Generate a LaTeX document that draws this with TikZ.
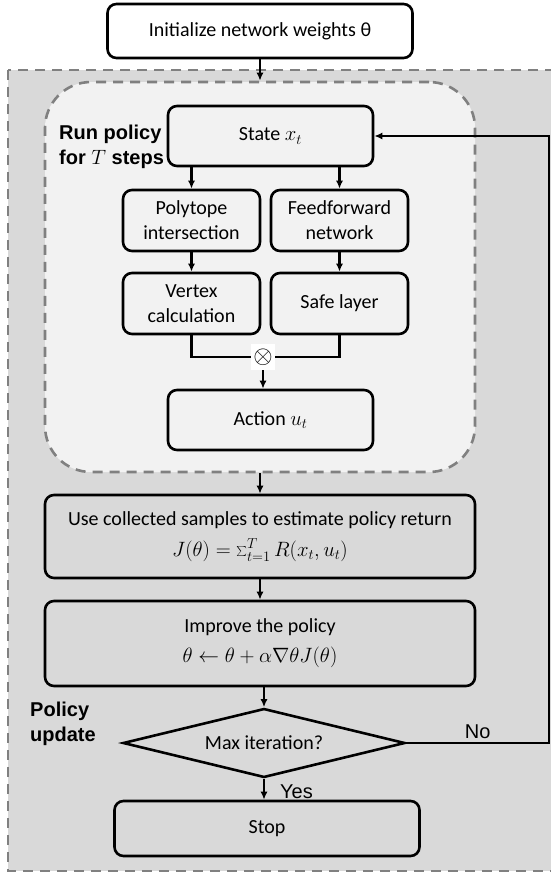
\documentclass[tikz,border=0pt]{standalone}
\usepackage{fontspec}
\setmainfont{Carlito}
\newfontfamily\arialfont{Liberation Sans}
\usetikzlibrary{shapes.geometric,arrows.meta}
\definecolor{outergray}{HTML}{D9D9D9}
\definecolor{innergray}{HTML}{F2F2F2}
\definecolor{dashgray}{HTML}{808080}
\begin{document}
\begin{tikzpicture}[x=1pt,y=-1pt,
  box/.style={draw=black,line width=2.6pt,rounded corners=9pt,inner sep=0pt,align=center,font=\fontsize{20}{25}\selectfont},
  flow/.style={line width=2.3pt,-{Latex[length=8pt,width=7pt]}},
  joint/.style={line width=2.3pt},
  frame/.style={draw=dashgray,line width=2.6pt,dash pattern=on 10pt off 7pt},
  steplbl/.style={font=\arialfont\bfseries\fontsize{20}{25}\selectfont,align=left,anchor=west,inner sep=0pt}]
 \useasboundingbox (0,0) rectangle (550,873);
 \fill[white] (0,0) rectangle (550,873);
 \draw[frame,fill=outergray] (8,70) rectangle (560,871);
 \node (runpol) at (260,277) [frame,fill=innergray,rounded corners=46pt,minimum width=430pt,minimum height=390pt] {};
 \node (init) at (260,31) [box,fill=white,minimum width=305pt,minimum height=54pt] {Initialize network weights θ};
 \node (state) at (270.5,136) [box,fill=innergray,minimum width=205pt,minimum height=60pt] {State $x_t$};
 \node (poly) at (191.5,220.5) [box,fill=innergray,minimum width=137pt,minimum height=61pt] {Polytope\\intersection};
 \node (ffn) at (339.5,220.5) [box,fill=innergray,minimum width=137pt,minimum height=61pt] {Feedforward\\network};
 \node (vert) at (191.5,303.5) [box,fill=innergray,minimum width=137pt,minimum height=61pt] {Vertex\\calculation};
 \node (safe) at (339.5,303.5) [box,fill=innergray,minimum width=137pt,minimum height=61pt] {Safe layer};
 \node (otimes) at (263,357) [fill=white,minimum width=24pt,minimum height=26pt,inner sep=0pt,font=\fontsize{25}{26}\selectfont] {$\otimes$};
 \node (action) at (270.5,420) [box,fill=innergray,minimum width=205pt,minimum height=60pt] {Action $u_t$};
 \node (use) at (260,536.5) [box,fill=outergray,minimum width=430pt,minimum height=83pt] {Use collected samples to estimate policy return\\[6pt]$J(\theta)=\sum_{t=1}^{T}R(x_t,u_t)$};
 \node (impr) at (260,643.5) [box,fill=outergray,minimum width=430pt,minimum height=85pt] {Improve the policy\\[5pt]$\theta\leftarrow\theta+\alpha\nabla\theta J(\theta)$};
 \node (maxit) at (264,743) [diamond,draw=black,line width=2.6pt,fill=outergray,aspect=4,inner sep=0pt,minimum width=282pt,minimum height=69pt,font=\fontsize{20}{25}\selectfont] {Max iteration?};
 \node (stop) at (267,828.5) [box,fill=outergray,minimum width=305pt,minimum height=55pt] {Stop};
 \node (runlbl) at (59,147) [steplbl] {Run policy\\for $T$ steps};
 \node (updlbl) at (30,724) [steplbl] {Policy\\update};
 \coordinate (back) at (549,136);
 \draw[flow] (init.south) -- (runpol.north);
 \draw[flow] (state.south -| poly) -- (poly.north);
 \draw[flow] (state.south -| ffn) -- (ffn.north);
 \draw[flow] (poly) -- (vert);
 \draw[flow] (ffn) -- (safe);
 \draw[joint] (vert.south) |- (otimes.west);
 \draw[joint] (safe.south) |- (otimes.east);
 \draw[flow] (otimes.south) -- (otimes.south |- action.north);
 \draw[flow] (runpol.south) -- (use.north);
 \draw[flow] (use) -- (impr);
 \draw[flow] (impr.south -| maxit) -- (maxit.north);
 \draw[flow] (maxit.south) -- (maxit.south |- stop.north) node [midway,right,font=\arialfont\fontsize{20}{22}\selectfont,inner sep=0pt,xshift=15pt,yshift=-2pt] {Yes};
 \draw[flow] (maxit.east) -| (back) node [pos=0.25,above,font=\arialfont\fontsize{20}{22}\selectfont,inner sep=3pt] {No} -- (state.east);
\end{tikzpicture}
\end{document}
